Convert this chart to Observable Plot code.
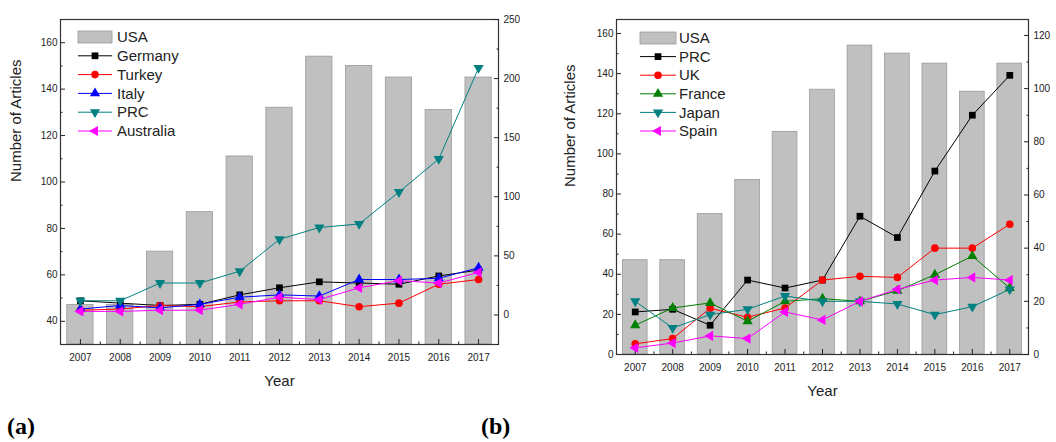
<!DOCTYPE html>
<html><head><meta charset="utf-8">
<script src="https://cdn.jsdelivr.net/npm/d3@7"></script>
<script src="https://cdn.jsdelivr.net/npm/@observablehq/plot@0.6"></script>
<style>
body{margin:0;background:#fff;width:1056px;height:442px;overflow:hidden;font-family:"Liberation Sans",Arial,sans-serif;position:relative;}
.panel{position:absolute;top:0;height:400px;}
.panel svg{position:absolute;left:0;top:0;}
.tag{position:absolute;font-family:"Liberation Serif","Times New Roman",serif;font-weight:bold;font-size:24px;color:#000;line-height:24px;}
</style></head><body>
<div id="pa" class="panel" style="left:0;width:530px"></div>
<div id="pb" class="panel" style="left:530px;width:526px"></div>
<div class="tag" style="left:7px;top:414px">(a)</div>
<div class="tag" style="left:481px;top:414px">(b)</div>
<script>
// ---------- data ----------
const years = [2007, 2008, 2009, 2010, 2011, 2012, 2013, 2014, 2015, 2016, 2017];
const usa = [47, 47, 70, 87, 111, 132, 154, 150, 145, 131, 145];

// panel (a) – right axis
const aGermany   = [12, 10, 8, 9, 17, 23, 28, 27, 26, 33, 38];
const aTurkey    = [4, 5, 8, 7, 11, 12, 12, 7, 10, 26, 30];
const aItaly     = [5, 8, 6, 9, 15, 17, 16, 30, 30, 31, 40];
const aPRC       = [12, 12, 27, 27, 37, 64, 74, 77, 104, 132, 209];
const aAustralia = [3, 3, 4, 4, 9, 15, 13, 23, 29, 27, 36];

// panel (b) – right axis
const bPRC    = [16, 17, 11, 28, 25, 28, 52, 44, 69, 90, 105];
const bUK     = [4, 6, 17.4, 14, 17.5, 28, 29.4, 29, 40, 40, 49];
const bFrance = [11, 17.5, 19.4, 12.5, 20, 21, 20, 24, 30, 37, 25];
const bJapan  = [20, 10, 15, 17, 22, 20, 20, 19, 15, 18, 24.5];
const bSpain  = [2.5, 4.3, 7, 6, 16, 13, 20, 24.5, 28, 29, 28];

// tick labels
const aLeftTicks = [40, 60, 80, 100, 120, 140, 160];
const aLeftMinor = [30, 50, 70, 90, 110, 130, 150, 170];
const aRightTicks = [0, 50, 100, 150, 200, 250];
const aRightMinor = [-25, 25, 75, 125, 175, 225];
const bLeftTicks = [0, 20, 40, 60, 80, 100, 120, 140, 160];
const bLeftMinor = [10, 30, 50, 70, 90, 110, 130, 150];
const bRightTicks = [0, 20, 40, 60, 80, 100, 120];
const bRightMinor = [10, 30, 50, 70, 90, 110];
const minorYears = [2007.5, 2008.5, 2009.5, 2010.5, 2011.5, 2012.5, 2013.5, 2014.5, 2015.5, 2016.5];

const seriesA = [
  {name: "Germany", values: aGermany, color: "#000000", symbol: "square", rotate: 0},
  {name: "Turkey", values: aTurkey, color: "#ff0000", symbol: "circle", rotate: 0},
  {name: "Italy", values: aItaly, color: "#0000ff", symbol: "triangle", rotate: 0},
  {name: "PRC", values: aPRC, color: "#008080", symbol: "triangle", rotate: 180},
  {name: "Australia", values: aAustralia, color: "#ff00ff", symbol: "triangle", rotate: -90}
];
const seriesB = [
  {name: "PRC", values: bPRC, color: "#000000", symbol: "square", rotate: 0},
  {name: "UK", values: bUK, color: "#ff0000", symbol: "circle", rotate: 0},
  {name: "France", values: bFrance, color: "#008000", symbol: "triangle", rotate: 0},
  {name: "Japan", values: bJapan, color: "#008080", symbol: "triangle", rotate: 180},
  {name: "Spain", values: bSpain, color: "#ff00ff", symbol: "triangle", rotate: -90}
];

const INK = "#222";
const BAR_FILL = "#c0c0c0", BAR_STROKE = "#9a9a9a";
const R = 3.8;
const styleBase = {background: "transparent", fontFamily: "'Liberation Sans', Arial, sans-serif", fontSize: "10px", color: INK, overflow: "visible"};

function buildPanel(el, cfg) {
  const common = {
    width: cfg.width, height: 400,
    marginLeft: cfg.ml, marginRight: cfg.mr, marginTop: 19, marginBottom: cfg.mb,
    x: {type: "linear", domain: [2006.5, 2017.5], axis: null},
    style: styleBase
  };
  const barData = years.map((year, i) => ({year, value: usa[i]}));
  const base = Plot.plot({
    ...common,
    y: {domain: cfg.leftDomain, axis: null},
    marks: [
      Plot.rect(barData, {x1: d => d.year - 0.33, x2: d => d.year + 0.33, y1: cfg.leftDomain[0], y2: "value", fill: BAR_FILL, stroke: BAR_STROKE, strokeWidth: 0.8}),
      Plot.axisY({ticks: cfg.leftTicks, tickSize: -5, tickPadding: 8, tickFormat: d => String(d), label: null, stroke: INK}),
      Plot.axisY({ticks: cfg.leftMinor, tickSize: -2.5, tickFormat: () => "", label: null, stroke: INK}),
      Plot.axisX({ticks: years, tickSize: -5, tickPadding: 14, tickFormat: d => String(d), label: null, stroke: INK}),
      Plot.axisX({ticks: minorYears, tickSize: -2.5, tickFormat: () => "", label: null, stroke: INK}),
      Plot.frame({stroke: "#333", strokeWidth: 1.2}),
      Plot.text(["Year"], {frameAnchor: "bottom", dy: 37, text: d => d, fontSize: 15, lineAnchor: "middle", fill: INK}),
      Plot.text(["Number of Articles"], {frameAnchor: "left", dx: cfg.titleDx, rotate: -90, text: d => d, fontSize: 15, lineAnchor: "middle", fill: INK})
    ]
  });
  const lineMarks = [];
  for (const s of cfg.series) {
    const rows = years.map((year, i) => ({year, v: s.values[i]}));
    lineMarks.push(Plot.line(rows, {x: "year", y: "v", stroke: s.color, strokeWidth: 1}));
    lineMarks.push(Plot.dot(rows, {x: "year", y: "v", symbol: s.symbol, rotate: s.rotate, r: R, fill: s.color, stroke: "none"}));
  }
  const over = Plot.plot({
    ...common,
    y: {domain: cfg.rightDomain, axis: null},
    marks: [
      Plot.axisY({anchor: "right", ticks: cfg.rightTicks, tickSize: -5, tickPadding: 10, tickFormat: d => String(d), label: null, stroke: INK}),
      Plot.axisY({anchor: "right", ticks: cfg.rightMinor, tickSize: -2.5, tickFormat: () => "", label: null, stroke: INK}),
      ...lineMarks
    ]
  });
  el.appendChild(base);
  el.appendChild(over);

  // legend (inside the frame, top-left)
  const lg = d3.select(el).append("svg")
    .attr("width", cfg.width).attr("height", 400)
    .style("position", "absolute").style("left", "0px").style("top", "0px").style("overflow", "visible");
  const L = cfg.legend;
  const rows = [{name: "USA", bar: true}, ...cfg.series];
  rows.forEach((s, i) => {
    const cy = L.y0 + i * L.dy;
    if (s.bar) {
      lg.append("rect").attr("x", L.x0).attr("y", cy - 6).attr("width", L.x1 - L.x0).attr("height", 12)
        .attr("fill", BAR_FILL).attr("stroke", BAR_STROKE).attr("stroke-width", 0.8);
    } else {
      lg.append("line").attr("x1", L.x0).attr("x2", L.x1).attr("y1", cy).attr("y2", cy)
        .attr("stroke", s.color).attr("stroke-width", 1);
      const type = {square: d3.symbolSquare, circle: d3.symbolCircle, triangle: d3.symbolTriangle}[s.symbol];
      lg.append("path").attr("d", d3.symbol(type, R * R * Math.PI)())
        .attr("transform", `translate(${(L.x0 + L.x1) / 2},${cy}) rotate(${s.rotate})`)
        .attr("fill", s.color);
    }
    lg.append("text").attr("x", L.tx).attr("y", cy).attr("dy", "0.35em")
      .attr("font-size", 15).attr("font-family", "'Liberation Sans', Arial, sans-serif")
      .attr("fill", INK).text(s.name);
  });
}

buildPanel(document.getElementById("pa"), {
  width: 530, ml: 60, mr: 32, mb: 56, titleDx: -44,
  leftDomain: [30, 170], rightDomain: [-25, 250],
  leftTicks: aLeftTicks, leftMinor: aLeftMinor, rightTicks: aRightTicks, rightMinor: aRightMinor,
  series: seriesA,
  legend: {x0: 78, x1: 112, tx: 117, y0: 37, dy: 18.8}
});
buildPanel(document.getElementById("pb"), {
  width: 526, ml: 86, mr: 28, mb: 46, titleDx: -46,
  leftDomain: [0, 167], rightDomain: [0, 126],
  leftTicks: bLeftTicks, leftMinor: bLeftMinor, rightTicks: bRightTicks, rightMinor: bRightMinor,
  series: seriesB,
  legend: {x0: 110, x1: 146, tx: 149, y0: 38, dy: 18.6}
});
</script>
</body></html>
